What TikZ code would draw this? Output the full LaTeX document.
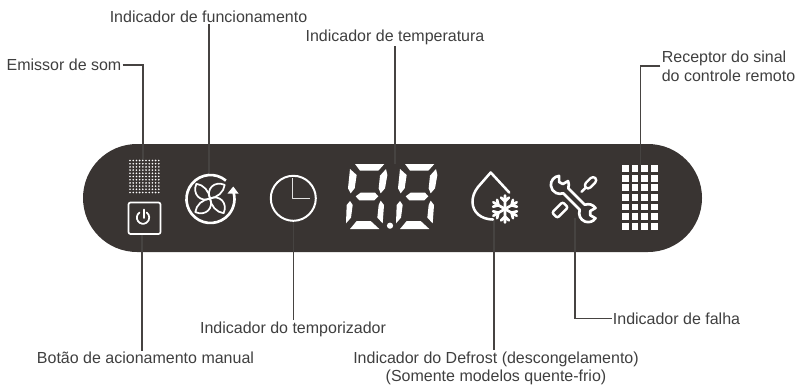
\documentclass[tikz,border=0pt]{standalone}
\usepackage{fontspec}
\setmainfont{Liberation Sans}
\usepackage{xcolor}
\usetikzlibrary{calc}
\definecolor{paneldark}{HTML}{393432}
\definecolor{leadgray}{HTML}{464341}
\definecolor{textgray}{HTML}{3F3F3F}
\tikzstyle{label} = [inner sep=0.8pt, align=center, text=textgray, font=\fontsize{12pt}{14pt}\selectfont]
\tikzstyle{leader} = [draw=leadgray, line width=0.9pt]
\tikzstyle{icon} = [draw=white, line width=1.5pt, line join=round, line cap=round]
\tikzstyle{seg} = [fill=white, draw=none]

\begin{document}
\begin{tikzpicture}[x=0.75pt, y=-0.75pt]
\useasboundingbox (0,0) rectangle (798,385);

% Panel
\node (panel) [rectangle, fill=paneldark, rounded corners=40.5pt, minimum width=464.25pt, minimum height=81pt, inner sep=0pt] at (392.5,198) {};

% Labels
\node (som) [label] at (64,65) {Emissor de som};
\node (funcionamento) [label] at (208.5,17) {Indicador de funcionamento};
\node (temperatura) [label] at (395,37) {Indicador de temperatura};
\node (receptor) [label, align=left] at (728.5,66) {Receptor do sinal\\do controle remoto};
\node (botao) [label] at (145.5,358) {Botão de acionamento manual};
\node (temporizador) [label] at (293,329) {Indicador do temporizador};
\node (defrost) [label] at (496,368.5) {Indicador do Defrost (descongelamento)\\(Somente modelos quente-frio)};
\node (falha) [label] at (676.5,318.5) {Indicador de falha};

% Icon anchors
\coordinate (dots) at (143,160);
\coordinate (fan) at (209,175);
\coordinate (digits) at (395,164);
\coordinate (grid) at (640.5,165);
\coordinate (button) at (142,234);
\coordinate (clock) at (293.5,221);
\coordinate (drop) at (494,220);
\coordinate (tools) at (575,218);

% Leaders
\draw [leader] (som.east) -| (dots);
\draw [leader] (fan) -- (fan |- funcionamento.south);
\draw [leader] (digits) -- (digits |- temperatura.south);
\draw [leader] (receptor.west) -| (grid);
\draw [leader] (button) -- (button |- botao.north);
\draw [leader] (clock) -- (clock |- temporizador.north);
\draw [leader] (drop) -- (drop |- defrost.north);
\draw [leader] (tools) |- (falha.west);

% Sound emitter
\foreach \i in {0,...,9}
  \foreach \j in {0,...,10}
    \fill [white] (130+3.2*\i,160.5+3.2*\j) circle (0.9);

% Manual button
\draw [icon, line width=1.3pt, rounded corners=1.5pt] (128.5,202.5) rectangle (160.5,234);
\draw [icon, line width=1.3pt] (139.5,212.5) arc[start angle=-125, end angle=-415, radius=6.2];
\draw [icon, line width=1.3pt] (144,209.5) -- (144,218);

% Fan
\draw [icon, line width=2pt, line cap=butt] (225.9,180.6) arc[start angle=-50, end angle=-381, radius=24];
\fill [white] (233.3,186.5) -- (238.5,193.5) -- (227.5,193.5) -- cycle;
\begin{scope}[shift={(210,198.5)}]
  \foreach \a in {40,130,220,310}
    \draw [icon, line width=1.3pt, rotate=\a] (0,0) .. controls (3,-10) and (15,-11) .. (20,-1) .. controls (15,4) and (6,4) .. (0,0);
\end{scope}

% Clock
\draw [icon] (293.3,198.3) circle (22.5);
\draw [icon, line width=1pt, draw=white!85!paneldark, line cap=butt] (292.7,178) -- (292.7,198.5) -- (310,198.5);

% Digits
\foreach \d in {0,50} {
\begin{scope}[shift={(340+\d,155)}, x=0.25pt, y=-0.25pt]
  \fill [seg] (45,27) -- (133,27) -- (115,47) -- (60,47) -- cycle;
  \fill [seg] (30,42) -- (50,60) -- (44,100) -- (32,115) -- (24,100) -- cycle;
  \fill [seg] (138,42) -- (142,60) -- (135,100) -- (122,115) -- (116,100) -- (120,62) -- cycle;
  \fill [seg] (62,113) -- (105,113) -- (115,124) -- (103,136) -- (58,136) -- (47,124) -- cycle;
  \fill [seg] (30,138) -- (38,150) -- (33,188) -- (18,205) -- (20,150) -- cycle;
  \fill [seg] (122,137) -- (132,150) -- (128,205) -- (112,188) -- (116,150) -- cycle;
  \fill [seg] (50,198) -- (92,198) -- (118,222) -- (30,222) -- cycle;
\end{scope}
}
\fill [white] (390,225.7) circle (3.1);

% Drop with snowflake
\draw [icon, line width=1.9pt] (509.3,192.6) -- (490.7,172.5) -- (478,187) .. controls (474,192) and (472.5,197) .. (472.5,202) .. controls (472.5,212) and (481,219.5) .. (493,219.5);
\begin{scope}[shift={(505,209)}]
  \foreach \a in {30,90,150,210,270,330}
    \draw [icon, line width=2pt, rotate=\a] (0,0) -- (13.5,0) (7.5,0) -- (11.5,4) (7.5,0) -- (11.5,-4);
\end{scope}

% Wrench and screwdriver
\begin{scope}[shift={(574,199)}, rotate=-45]
  \coordinate (headr) at (20,0);
  \coordinate (headl) at (-20,0);
  \draw [icon, line width=2pt] (-11,3.5) -- (11,3.5)
    -- ($(headr)+(155:9)$) arc[start angle=155, end angle=-10, radius=9]
    -- ($(headr)+(0:3)$) -- ($(headr)+(-90:3)$)
    -- ($(headr)+(-80:9)$) arc[start angle=-80, end angle=-155, radius=9]
    -- (11,-3.5) -- (-11,-3.5)
    -- ($(headl)+(-25:9)$) arc[start angle=-25, end angle=-70, radius=9]
    -- ($(headl)+(-60:3)$) -- ($(headl)+(-150:3)$)
    -- ($(headl)+(-140:9)$) arc[start angle=-140, end angle=-335, radius=9]
    -- cycle;
\end{scope}
\begin{scope}[shift={(590,183.3)}, rotate=45]
  \draw [icon, line width=1.8pt, rounded corners=2.5pt] (-6,-3.2) rectangle (7.5,3.2);
  \draw [icon, line width=1.8pt] (-6,0) -- (-12,0);
\end{scope}
\begin{scope}[shift={(560,210)}, rotate=45]
  \draw [icon, line width=1.8pt, rounded corners=1.5pt] (-7.5,-3.8) rectangle (7.5,3.8);
\end{scope}

% Receiver grid
\foreach \i in {0,...,3}
  \foreach \j in {0,...,6}
    \fill [white] (621.8+9.8*\i,165.2+9.6*\j) rectangle ++(6.8,6.8);

\end{tikzpicture}
\end{document}
